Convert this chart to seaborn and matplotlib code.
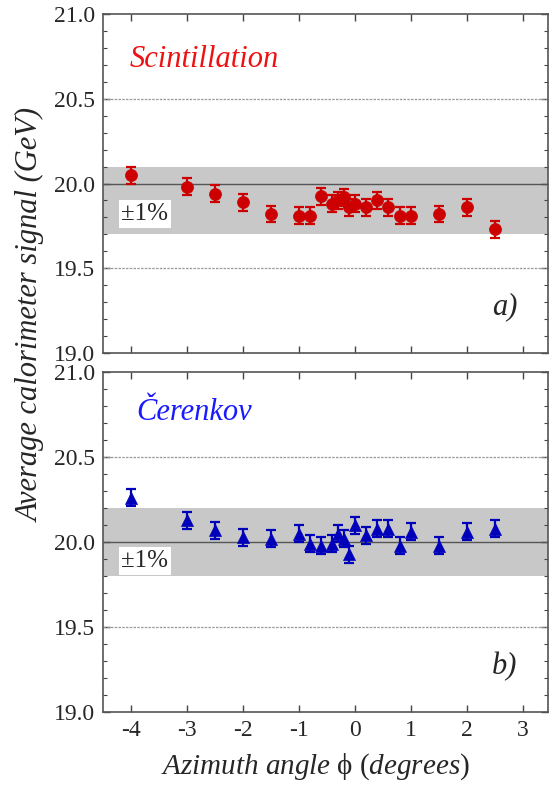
import numpy as np
import pandas as pd
import matplotlib
matplotlib.use("Agg")
import matplotlib.pyplot as plt
from matplotlib.ticker import MultipleLocator
import seaborn as sns

# azimuth angles (degrees), same for both panels
phi = [-4.0, -3.0, -2.5, -2.0, -1.5, -1.0, -0.8, -0.6, -0.4, -0.3, -0.2,
       -0.1, 0.0, 0.2, 0.4, 0.6, 0.8, 1.0, 1.5, 2.0, 2.5]

# average signal (GeV)
scint = [20.05, 19.98, 19.94, 19.89, 19.82, 19.81, 19.81, 19.925, 19.88, 19.90, 19.92,
         19.86, 19.88, 19.86, 19.90, 19.86, 19.81, 19.81, 19.82, 19.86, 19.73]
ceren = [20.26, 20.13, 20.07, 20.03, 20.02, 20.05, 19.99, 19.98, 19.99, 20.05, 20.02,
         19.93, 20.10, 20.04, 20.08, 20.08, 19.98, 20.06, 19.98, 20.06, 20.08]
err = 0.05

# +-1% bands around the reference value
scint_ref = 19.9
ceren_ref = 20.0
band_frac = 0.01

df_s = pd.DataFrame({"phi": phi, "signal": scint})
df_c = pd.DataFrame({"phi": phi, "signal": ceren})

sns.set_theme(style="ticks")
plt.rcParams["font.family"] = ["Liberation Serif", "DejaVu Serif"]
plt.rcParams["mathtext.fontset"] = "custom"
plt.rcParams["mathtext.rm"] = "Liberation Serif"
plt.rcParams["mathtext.it"] = "Liberation Serif:italic"

fig = plt.figure(figsize=(5.52, 7.86), dpi=100)
ax1 = fig.add_axes([0.1866, 0.551, 0.806, 0.431])
ax2 = fig.add_axes([0.1866, 0.094, 0.806, 0.4326])

panels = [
    (ax1, df_s, scint_ref, "#cc0000", "o", "Scintillation", "#ee1111", "a)", 19.82, 20.73, -4.03),
    (ax2, df_c, ceren_ref, "#0000bb", "^", "Čerenkov", "#1a1aff", "b)", 19.89, 20.76, -3.9),
]

for ax, d, ref, col, mk, name, namecol, tag, pm_y, name_y, name_x in panels:
    ax.axhspan(ref * (1 - band_frac), ref * (1 + band_frac), color="#c8c8c8", lw=0, zorder=0)
    for g in [19.5, 20.5]:
        ax.axhline(g, color="#999999", lw=0.9, ls=(0, (2, 1)), zorder=1)
    ax.axhline(20.0, color="#555555", lw=1.0, zorder=1)

    ax.errorbar(d["phi"], d["signal"], yerr=err, fmt="none", ecolor=col,
                elinewidth=1.6, capsize=3.5, capthick=1.6, zorder=3)
    sns.scatterplot(data=d, x="phi", y="signal", ax=ax, color=col, marker=mk,
                    s=75, edgecolor=col, linewidth=0.5, zorder=4, legend=False)

    ax.text(name_x, name_y, name, color=namecol, fontsize=22, style="italic",
            va="center", ha="left")
    ax.text(-3.75, pm_y, "±1%", fontsize=18, va="center", ha="center",
            bbox=dict(facecolor="white", edgecolor="none", pad=2.0), zorder=5)
    ax.text(2.68, 19.27, tag, fontsize=22, style="italic", va="center", ha="center")

    ax.set_xlim(-4.5, 3.45)
    ax.set_ylim(19.0, 21.0)
    ax.set_yticks([19.0, 19.5, 20.0, 20.5, 21.0])
    ax.set_yticklabels(["19.0", "19.5", "20.0", "20.5", "21.0"])
    ax.yaxis.set_minor_locator(MultipleLocator(0.1))
    ax.set_xticks([-4, -3, -2, -1, 0, 1, 2, 3])
    ax.tick_params(which="both", direction="in", top=True, right=True,
                   color="#444444", labelsize=17, pad=6)
    ax.tick_params(which="major", length=5, width=1.0)
    ax.tick_params(which="minor", length=3, width=0.8)
    for sp in ax.spines.values():
        sp.set_color("#555555")
        sp.set_linewidth(1.2)
    ax.set_xlabel("")
    ax.set_ylabel("")

ax1.tick_params(labelbottom=False)
ax2.set_xticklabels(["-4", "-3", "-2", "-1", "0", "1", "2", "3"])
ax2.set_xlabel(r"$\mathit{Azimuth\ angle}\ \mathrm{\phi}\ \mathit{(degrees)}$", fontsize=21)
ax2.xaxis.set_label_coords((315 - 103) / 445, -0.115)

fig.text(31 / 552, 1 - 315 / 786, "Average calorimeter signal (GeV)", rotation=90,
         fontsize=22, style="italic", va="center", ha="center")

fig.savefig("out.png", dpi=100)
